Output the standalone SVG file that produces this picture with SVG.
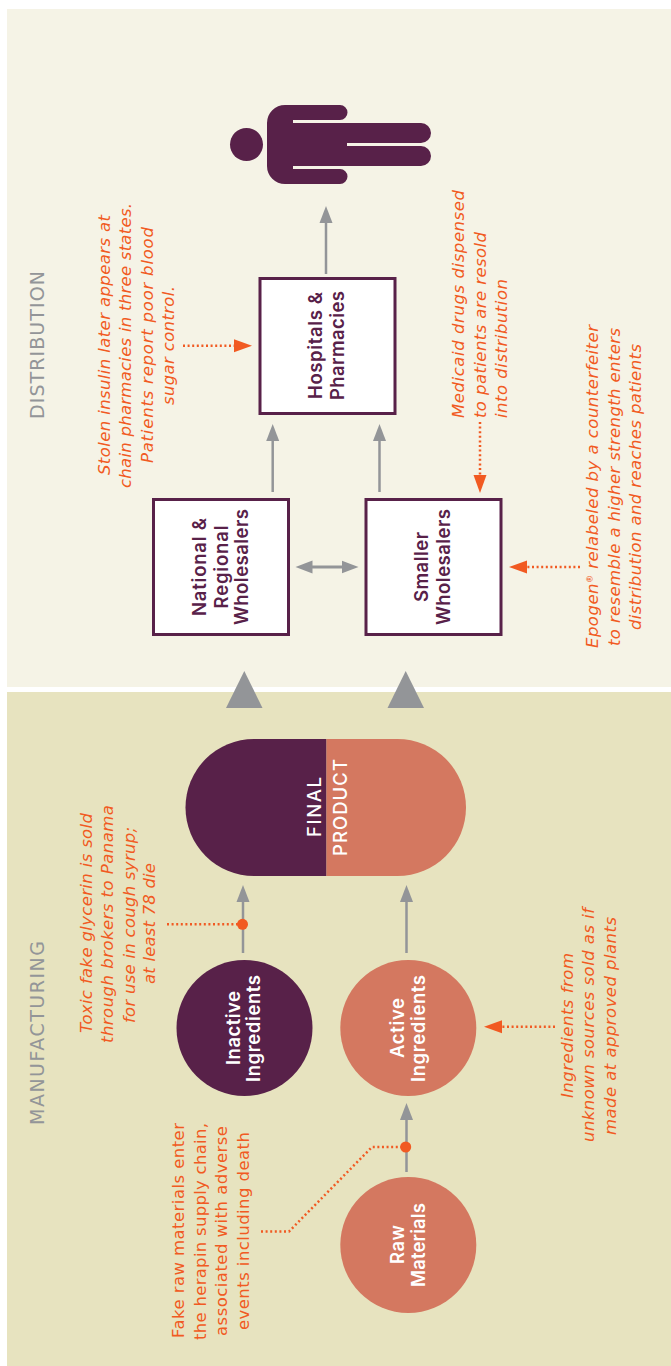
<svg xmlns="http://www.w3.org/2000/svg" width="671" height="1366" viewBox="0 0 671 1366">
<style>
text{font-family:"DejaVu Sans","Liberation Sans",sans-serif}
.sec{font-size:19px;fill:#939598}
.note{font-size:16.500px;fill:#f15a22;font-style:italic}
.up{font-style:normal}
.lbl{font-family:Inter,"DejaVu Sans",sans-serif;font-size:18.500px;font-weight:600;fill:#582149}
.wlbl{font-family:Inter,"DejaVu Sans",sans-serif;font-size:18.500px;font-weight:600;fill:#fff}
.m{text-anchor:middle}
.box{fill:#fff;stroke:#582149;stroke-width:3}
.plum{fill:#582149}
.coral{fill:#d47860}
.g{fill:none;stroke:#939598;stroke-width:2.500;marker-end:url(#ga)}
.d{fill:none;stroke:#f15a22;stroke-width:2.500;stroke-dasharray:2 2.600}
.da{marker-end:url(#oa)}
.dot{fill:#f15a22}
.big{fill:#939598}
</style>
<defs>
<marker id="ga" markerUnits="userSpaceOnUse" markerWidth="18" markerHeight="14" refX="1" refY="7" orient="auto"><path d="M0 0.500L17 7L0 13.500Z" fill="#939598"/></marker>
<marker id="gd" markerUnits="userSpaceOnUse" markerWidth="18" markerHeight="20" refX="1" refY="10" orient="auto-start-reverse"><path d="M0 3.500L17 10L0 16.500Z" fill="#939598"/></marker>
<marker id="oa" markerUnits="userSpaceOnUse" markerWidth="19" markerHeight="14" refX="1" refY="7" orient="auto"><path d="M0 0.500L18 7L0 13.500Z" fill="#f15a22"/></marker>
</defs>
<rect width="671" height="1366" fill="#fff"/>
<rect x="7" y="9" width="664" height="678" fill="#f5f3e6"/>
<rect x="7" y="692" width="664" height="674" fill="#e7e3bf"/>
<text class="sec" transform="translate(43.500,419) rotate(-90)" textLength="148">DISTRIBUTION</text>
<text class="sec" transform="translate(43.500,1125) rotate(-90)" textLength="184">MANUFACTURING</text>

<g id="connectors">
<path class="g" d="M326 274V222"/>
<path class="g" d="M272.700 492V440"/>
<path class="g" d="M379.500 492V440"/>
<path d="M311.500 567H342.500" fill="none" stroke="#939598" stroke-width="3" marker-start="url(#gd)" marker-end="url(#gd)"/>
<path class="g" d="M243 953V901"/>
<path class="g" d="M406.500 953V901"/>
<path class="g" d="M406.500 1172V1119"/>
<polygon class="big" points="244.300,671 262.500,708 226,708"/>
<polygon class="big" points="405.700,671 424,708 387.500,708"/>
<path class="d da" d="M183 345.700H235"/>
<path class="d da" d="M480 422V476"/>
<path class="d da" d="M580 567H526"/>
<path class="d da" d="M555 1026.700H501"/>
<path class="d" d="M167 924.300H243"/>
<circle class="dot" cx="242.500" cy="924.300" r="5.500"/>
<path class="d" d="M261 1231.500H289L372 1147H406"/>
<circle class="dot" cx="405.700" cy="1147" r="5.500"/>
</g>

<g id="patient"><circle class="plum" cx="246.500" cy="144.500" r="16.500"/>
<path class="plum" d="M285 105H340a7.500 7.500 0 0 1 0 15H293V123H421a10 10 0 0 1 0 20H347V146H421a10 10 0 0 1 0 20H293V169H340a7.500 7.500 0 0 1 0 15H285a18 18 0 0 1-18-18V123a18 18 0 0 1 18-18Z"/></g>

<g id="hospitals"><rect class="box" x="260" y="278.500" width="135" height="135"/>
<text class="lbl m" transform="translate(322,345.500) rotate(-90)" textLength="107">Hospitals &amp;</text>
<text class="lbl m" transform="translate(343.500,345.500) rotate(-90)" textLength="109">Pharmacies</text></g>

<g id="national"><rect class="box" x="153.500" y="499.500" width="135" height="135"/>
<text class="lbl m" transform="translate(205.500,567) rotate(-90)" textLength="98">National &amp;</text>
<text class="lbl m" transform="translate(227.500,567) rotate(-90)" textLength="83">Regional</text>
<text class="lbl m" transform="translate(248,567) rotate(-90)" textLength="116">Wholesalers</text></g>

<g id="smaller"><rect class="box" x="366" y="499.500" width="135" height="135"/>
<text class="lbl m" transform="translate(428,567) rotate(-90)" textLength="70">Smaller</text>
<text class="lbl m" transform="translate(450,567) rotate(-90)" textLength="116">Wholesalers</text></g>

<g id="final-product">
<path class="plum" d="M326.500 739H254a68.500 68.500 0 0 0 0 137H326.500Z"/>
<path class="coral" d="M326.500 739H397.500a68.500 68.500 0 0 1 0 137H326.500Z"/>
<text class="wlbl m" transform="translate(321,807) rotate(-90)" style="font-weight:500" textLength="60">FINAL</text>
<text class="wlbl m" transform="translate(346.500,807.500) rotate(-90)" style="font-weight:500" textLength="97">PRODUCT</text></g>

<g id="inactive"><circle class="plum" cx="244.500" cy="1028" r="68"/>
<text class="wlbl m" transform="translate(239.500,1028) rotate(-90)" textLength="74">Inactive</text>
<text class="wlbl m" transform="translate(260,1028.500) rotate(-90)" textLength="107">Ingredients</text></g>

<g id="active"><circle class="coral" cx="408.300" cy="1028" r="68"/>
<text class="wlbl m" transform="translate(404,1028) rotate(-90)" textLength="60">Active</text>
<text class="wlbl m" transform="translate(424.500,1028.500) rotate(-90)" textLength="107">Ingredients</text></g>

<g id="raw"><circle class="coral" cx="408.300" cy="1245" r="68"/>
<text class="wlbl m" transform="translate(404,1244.500) rotate(-90)" textLength="39">Raw</text>
<text class="wlbl m" transform="translate(424.500,1245) rotate(-90)" textLength="84">Materials</text></g>

<g id="note-insulin">
<text class="note m" transform="translate(110,345) rotate(-90)" textLength="260">Stolen insulin later appears at</text>
<text class="note m" transform="translate(131,345.500) rotate(-90)" textLength="285">chain pharmacies in three states.</text>
<text class="note m" transform="translate(152.500,345) rotate(-90)" textLength="236">Patients report poor blood</text>
<text class="note m" transform="translate(174,345.500) rotate(-90)" textLength="119">sugar control.</text></g>

<g id="note-medicaid">
<text class="note" transform="translate(464,418) rotate(-90)" textLength="228">Medicaid drugs dispensed</text>
<text class="note" transform="translate(486,418) rotate(-90)" textLength="186">to patients are resold</text>
<text class="note" transform="translate(507,418) rotate(-90)" textLength="139">into distribution</text></g>

<g id="note-epogen">
<text class="note m" transform="translate(598,486.500) rotate(-90)" textLength="323">Epogen<tspan font-size="8" dy="-5">®</tspan><tspan dy="5"> relabeled by a counterfeiter</tspan></text>
<text class="note m" transform="translate(620,487) rotate(-90)" textLength="318">to resemble a higher strength enters</text>
<text class="note m" transform="translate(641,487) rotate(-90)" textLength="286">distribution and reaches patients</text></g>

<g id="note-glycerin">
<text class="note m" transform="translate(92,923) rotate(-90)" textLength="220">Toxic fake glycerin is sold</text>
<text class="note m" transform="translate(113,924) rotate(-90)" textLength="238">through brokers to Panama</text>
<text class="note m" transform="translate(135,925) rotate(-90)" textLength="196">for use in cough syrup;</text>
<text class="note m" transform="translate(155,923.500) rotate(-90)" textLength="121">at least 78 die</text></g>

<g id="note-unknown">
<text class="note m" transform="translate(573,1025.500) rotate(-90)" textLength="145">Ingredients from</text>
<text class="note m" transform="translate(594,1025) rotate(-90)" textLength="234">unknown sources sold as if</text>
<text class="note m" transform="translate(616,1026) rotate(-90)" textLength="218">made at approved plants</text></g>

<g id="note-heparin">
<text class="note up m" transform="translate(184,1230.500) rotate(-90)" textLength="215">Fake raw materials enter</text>
<text class="note up m" transform="translate(205.500,1231.500) rotate(-90)" textLength="217">the herapin supply chain,</text>
<text class="note up m" transform="translate(227,1231) rotate(-90)" textLength="210">associated with adverse</text>
<text class="note up m" transform="translate(249,1231) rotate(-90)" textLength="198">events including death</text></g>
</svg>
